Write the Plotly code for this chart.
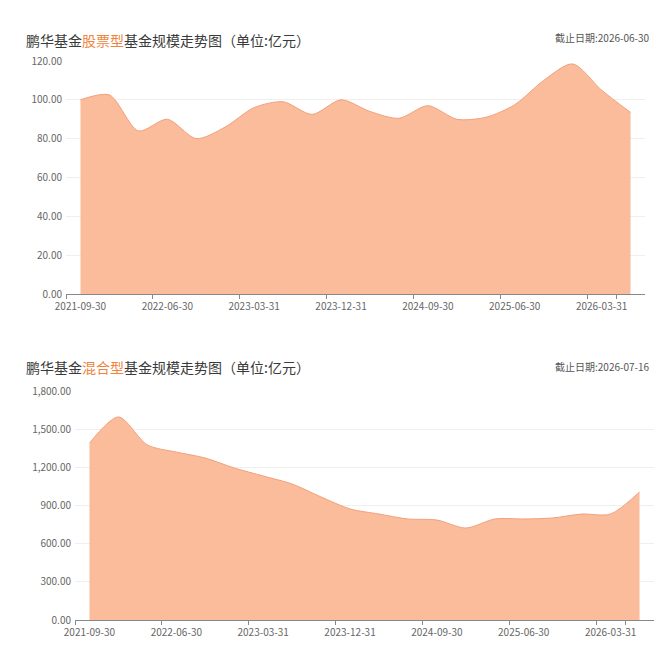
import plotly.graph_objects as go

dates = ["2021-09-30", "2021-12-31", "2022-03-31", "2022-06-30", "2022-09-30",
         "2022-12-31", "2023-03-31", "2023-06-30", "2023-09-30", "2023-12-31",
         "2024-03-31", "2024-06-30", "2024-09-30", "2024-12-31", "2025-03-31",
         "2025-06-30", "2025-09-30", "2025-12-31", "2026-03-31", "2026-06-30"]
stock_scale = [100.0, 102.5, 84.0, 90.0, 80.0, 86.0, 96.0, 99.0, 92.5, 100.0,
               94.0, 90.5, 97.0, 90.0, 91.0, 97.5, 110.0, 118.5, 105.0, 93.5]
mixed_scale = [1390, 1596, 1376, 1320, 1273, 1195, 1132, 1069, 967, 873,
               833, 794, 786, 723, 794, 794, 802, 833, 833, 1006]
tick_dates = dates[0:19:3]

title_top = "鹏华基金<span style='color:#F0843F'>股票型</span>基金规模走势图（单位:亿元）"
title_bot = "鹏华基金<span style='color:#F0843F'>混合型</span>基金规模走势图（单位:亿元）"
date_top = "截止日期:2026-06-30"
date_bot = "截止日期:2026-07-16"

FILL = "#FBBC9C"
LINE = "#F2A07A"
FONT = "Noto Sans CJK SC"

# the page body has an 8px margin; work in figure pixels = screen - 8
W = H = 662
OFF = 8


def px(p):
    return (p - OFF) / W


def py(p):
    return (H - (p - OFF)) / H


fig = go.Figure()
fig.add_trace(go.Scatter(x=dates, y=stock_scale, mode="lines", fill="tozeroy",
                         fillcolor=FILL, line=dict(color=LINE, width=1, shape="spline", smoothing=0.8),
                         xaxis="x", yaxis="y", hoverinfo="x+y"))
fig.add_trace(go.Scatter(x=dates, y=mixed_scale, mode="lines", fill="tozeroy",
                         fillcolor=FILL, line=dict(color=LINE, width=1, shape="spline", smoothing=0.8),
                         xaxis="x2", yaxis="y2", hoverinfo="x+y"))

xcommon = dict(type="category", range=[-0.5, 19.5], tickmode="array", tickvals=tick_dates,
               ticktext=tick_dates, tickson="boundaries", ticks="outside", ticklen=4,
               tickangle=0, tickcolor="#888", showline=True, linecolor="#888", linewidth=1,
               showgrid=False, tickfont=dict(family=FONT, size=10, color="#666"),
               ticklabelstandoff=3, automargin=False, fixedrange=True)
ycommon = dict(showline=False, showgrid=True, gridcolor="#EFEFEF", gridwidth=1,
               zeroline=False, ticks="", tickfont=dict(family=FONT, size=10, color="#666"),
               ticklabelstandoff=3, automargin=False, fixedrange=True)

fig.update_layout(
    width=W, height=H,
    margin=dict(l=0, r=0, t=0, b=0),
    paper_bgcolor="white", plot_bgcolor="white",
    showlegend=False,
    xaxis=dict(domain=[px(66), px(645)], anchor="y", **xcommon),
    yaxis=dict(domain=[py(294), py(61)], anchor="x", range=[0, 120], dtick=20,
               tickformat=".2f", **ycommon),
    xaxis2=dict(domain=[px(75), px(654)], anchor="y2", **xcommon),
    yaxis2=dict(domain=[py(620), py(391)], anchor="x2", range=[0, 1800], dtick=300,
                tickformat=",.2f", **ycommon),
    annotations=[
        dict(text=title_top, x=px(24), y=py(40), xref="paper", yref="paper",
             xanchor="left", yanchor="middle", showarrow=False,
             font=dict(family=FONT, size=14, color="#3A3A3A")),
        dict(text=title_bot, x=px(24), y=py(367), xref="paper", yref="paper",
             xanchor="left", yanchor="middle", showarrow=False,
             font=dict(family=FONT, size=14, color="#3A3A3A")),
        dict(text=date_top, x=px(652), y=py(38), xref="paper", yref="paper",
             xanchor="right", yanchor="middle", showarrow=False,
             font=dict(family=FONT, size=10, color="#555")),
        dict(text=date_bot, x=px(652), y=py(366), xref="paper", yref="paper",
             xanchor="right", yanchor="middle", showarrow=False,
             font=dict(family=FONT, size=10, color="#555")),
    ],
)

fig.write_html("out.html")
